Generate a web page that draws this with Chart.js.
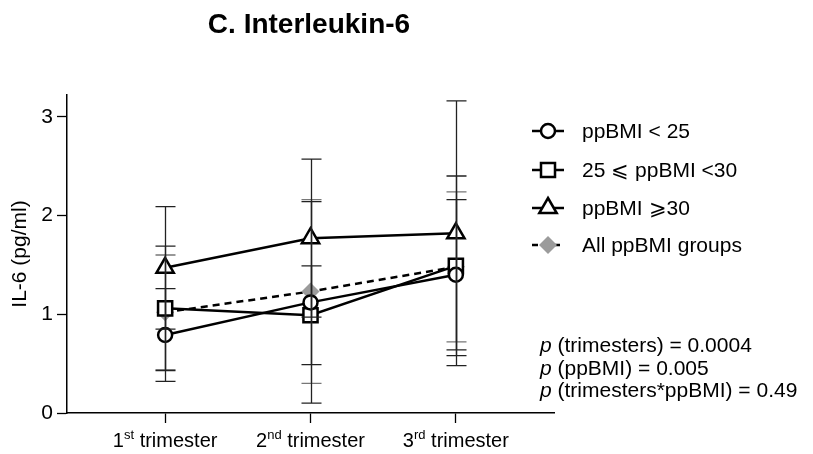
<!DOCTYPE html>
<html>
<head>
<meta charset="utf-8">
<script src="https://cdn.jsdelivr.net/npm/chart.js@4.4.0/dist/chart.umd.min.js"></script>
<style>
  html, body { margin: 0; padding: 0; background: #fff; }
  #wrap { width: 813px; height: 454px; }
</style>
</head>
<body>
<div id="wrap"><canvas id="il6Chart" width="813" height="454"></canvas></div>
<script>
// IL-6 by trimester, mean +/- SD per pre-pregnancy BMI group
var trimesters = [1, 2, 3];
var trimesterNums = ['1', '2', '3'];
var trimesterSups = ['st', 'nd', 'rd'];
var yTicks = [0, 1, 2, 3];

var groupLabels = ['ppBMI < 25', '25 \u2A7D ppBMI <30', 'ppBMI \u2A7E30', 'All ppBMI groups'];

var bmiUnder25 = [0.79, 1.12, 1.40];
var bmiUnder25Sd = [0.47, 1.02, 0.76];
var bmi25to30 = [1.06, 0.99, 1.49];
var bmi25to30Sd = [0.63, 0.50, 0.91];
var bmiOver30 = [1.47, 1.77, 1.82];
var bmiOver30Sd = [0.62, 0.80, 1.34];
var bmiAll = [1.02, 1.23, 1.48];
var bmiAllSd = [0.58, 0.93, 0.76];

var pLines = [
  ' (trimesters) = 0.0004',
  ' (ppBMI) = 0.005',
  ' (trimesters*ppBMI) = 0.49'
];

var FONT = '"Liberation Sans", Arial, sans-serif';
var GREY = '#9b9b9b';

function pts(arr) {
  return arr.map(function(v, i) { return { x: trimesters[i], y: v }; });
}

var sdSets = [bmiUnder25Sd, bmi25to30Sd, bmiOver30Sd, bmiAllSd];

// error bars go on top of the markers; pooled group first so the
// individual groups' bars stay dark where they overlap
var errorBars = {
  id: 'errorBars',
  afterDatasetsDraw: function(chart) {
    var ctx = chart.ctx;
    var xs = chart.scales.x, ys = chart.scales.y;
    ctx.save();
    [3, 2, 1, 0].forEach(function(d) {
      var ds = chart.data.datasets[d];
      sdSets[d].forEach(function(sd, i) {
        var px = Math.round(xs.getPixelForValue(trimesters[i])) + 0.5;
        var mean = ds.data[i].y;
        var top = ys.getPixelForValue(mean + sd);
        var bot = ys.getPixelForValue(Math.max(0, mean - sd));
        ctx.strokeStyle = d === 3 ? '#777' : '#222';
        ctx.lineWidth = 1.3;
        ctx.beginPath();
        ctx.moveTo(px, top); ctx.lineTo(px, bot);
        ctx.moveTo(px - 10, top); ctx.lineTo(px + 10, top);
        ctx.moveTo(px - 10, bot); ctx.lineTo(px + 10, bot);
        ctx.stroke();
      });
    });
    ctx.restore();
  }
};

function drawMarker(ctx, style, x, y) {
  ctx.beginPath();
  if (style === 'circle') {
    ctx.arc(x, y, 7, 0, Math.PI * 2);
  } else if (style === 'rect') {
    ctx.rect(x - 7, y - 7, 14, 14);
  } else if (style === 'triangle') {
    ctx.moveTo(x, y - 10);
    ctx.lineTo(x + 8.7, y + 5);
    ctx.lineTo(x - 8.7, y + 5);
    ctx.closePath();
  } else {
    ctx.moveTo(x, y - 9); ctx.lineTo(x + 9, y);
    ctx.lineTo(x, y + 9); ctx.lineTo(x - 9, y);
    ctx.closePath();
  }
}

var annotations = {
  id: 'annotations',
  afterDraw: function(chart) {
    var ctx = chart.ctx;
    var xs = chart.scales.x;
    ctx.save();
    ctx.fillStyle = '#000';

    // title
    ctx.font = 'bold 28px ' + FONT;
    ctx.textAlign = 'center';
    ctx.textBaseline = 'alphabetic';
    ctx.fillText('C. Interleukin-6', 309, 33);

    // y axis title
    ctx.save();
    ctx.translate(26, 254);
    ctx.rotate(-Math.PI / 2);
    ctx.font = '21px ' + FONT;
    ctx.fillText('IL-6 (pg/ml)', 0, 0);
    ctx.restore();

    // x tick labels with ordinal superscripts
    trimesters.forEach(function(t, i) {
      var cx = xs.getPixelForValue(t);
      ctx.font = '20px ' + FONT;
      var wNum = ctx.measureText(trimesterNums[i]).width;
      var wRest = ctx.measureText(' trimester').width;
      ctx.font = '13px ' + FONT;
      var wSup = ctx.measureText(trimesterSups[i]).width;
      var x0 = cx - (wNum + wSup + wRest) / 2;
      ctx.textAlign = 'left';
      ctx.font = '20px ' + FONT;
      ctx.fillText(trimesterNums[i], x0, 447);
      ctx.font = '13px ' + FONT;
      ctx.fillText(trimesterSups[i], x0 + wNum, 439);
      ctx.font = '20px ' + FONT;
      ctx.fillText(' trimester', x0 + wNum + wSup, 447);
    });

    // legend
    var rowsY = [131, 170, 208, 245];
    chart.data.datasets.forEach(function(ds, d) {
      var y = rowsY[d];
      ctx.strokeStyle = '#000';
      ctx.lineWidth = 2.5;
      ctx.setLineDash(d === 3 ? [6, 5] : []);
      ctx.beginPath();
      ctx.moveTo(532, y); ctx.lineTo(564, y);
      ctx.stroke();
      ctx.setLineDash([]);
      drawMarker(ctx, ds.pointStyle, 548, y);
      if (d === 3) {
        ctx.fillStyle = GREY;
        ctx.fill();
      } else {
        ctx.fillStyle = '#fff';
        ctx.fill();
        ctx.lineWidth = 2.5;
        ctx.stroke();
      }
      ctx.fillStyle = '#000';
      ctx.font = '21px ' + FONT;
      ctx.textAlign = 'left';
      ctx.fillText(groupLabels[d], 582, y + 7);
    });

    // statistics
    var statY = [352, 374.5, 397];
    pLines.forEach(function(txt, i) {
      ctx.font = 'italic 21px ' + FONT;
      ctx.fillText('p', 540, statY[i]);
      var w = ctx.measureText('p').width;
      ctx.font = '21px ' + FONT;
      ctx.fillText(txt, 540 + w, statY[i]);
    });
    ctx.restore();
  }
};

var lineBase = {
  borderColor: '#000',
  borderWidth: 2.5,
  pointBorderColor: '#000',
  pointBackgroundColor: '#fff',
  pointBorderWidth: 2.5,
  tension: 0
};

var ctx = document.getElementById('il6Chart');
var chart = new Chart(ctx, {
  type: 'line',
  data: {
    datasets: [
      Object.assign({}, lineBase, { label: groupLabels[0], data: pts(bmiUnder25), pointStyle: 'circle', pointRadius: 7, order: 1 }),
      Object.assign({}, lineBase, { label: groupLabels[1], data: pts(bmi25to30), pointStyle: 'rect', pointRadius: 10, order: 2 }),
      Object.assign({}, lineBase, { label: groupLabels[2], data: pts(bmiOver30), pointStyle: 'triangle', pointRadius: 10, order: 3 }),
      Object.assign({}, lineBase, {
        label: groupLabels[3], data: pts(bmiAll), pointStyle: 'rectRot', pointRadius: 9,
        borderDash: [7, 5], pointBackgroundColor: GREY, pointBorderColor: GREY, pointBorderWidth: 0, order: 4
      })
    ]
  },
  options: {
    responsive: false,
    animation: false,
    events: [],
    layout: { padding: { left: 0, right: 259, top: 95, bottom: 0 } },
    plugins: { legend: { display: false }, title: { display: false }, tooltip: { enabled: false } },
    scales: {
      x: {
        type: 'linear',
        min: 0.325,
        max: 3.675,
        afterBuildTicks: function(s) { s.ticks = trimesters.map(function(v) { return { value: v }; }); },
        afterFit: function(s) { s.height = 41; },
        ticks: { display: false },
        grid: { drawOnChartArea: false, tickLength: 10, color: '#000', tickWidth: 1.3 },
        border: { color: '#000', width: 1.5 }
      },
      y: {
        min: 0,
        max: 3.22,
        afterBuildTicks: function(s) { s.ticks = yTicks.map(function(v) { return { value: v }; }); },
        afterFit: function(s) { s.width = 67; },
        ticks: { color: '#000', padding: 4, font: { family: FONT, size: 21 } },
        grid: { drawOnChartArea: false, tickLength: 10, color: '#000', tickWidth: 1.3 },
        border: { color: '#000', width: 1.5 }
      }
    }
  },
  plugins: [errorBars, annotations]
});
</script>
</body>
</html>
